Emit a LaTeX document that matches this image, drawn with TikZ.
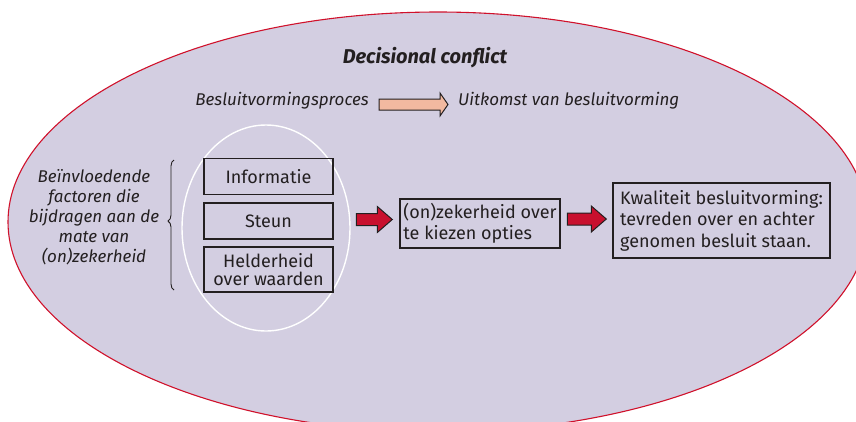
\documentclass[tikz,border=0pt]{standalone}
\usepackage{fontspec}
\setmainfont{Fira Sans}
\usetikzlibrary{shapes.geometric,decorations.pathreplacing,calc}
\definecolor{lav}{HTML}{D3CEE1}
\definecolor{redline}{HTML}{D0112B}
\definecolor{redfill}{HTML}{C8102E}
\definecolor{peach}{HTML}{F2B9A0}
\definecolor{ink}{HTML}{231F20}
\tikzset{
  fbox/.style={draw=ink, line width=1.4pt, rectangle, inner sep=1pt, text=ink,
     font=\fontsize{18}{21.5}\selectfont, align=center},
  itxt/.style={text=ink, font=\fontsize{17}{20}\selectfont\itshape, inner sep=0pt},
  redarr/.style={fill=redfill, draw=ink, line width=1pt, line join=miter},
  peacharr/.style={fill=peach, draw=ink, line width=1pt, line join=miter},
}
\begin{document}
\begin{tikzpicture}[x=1pt,y=-1pt]
\useasboundingbox (0,0) rectangle (856,421);
\begin{scope}
\clip (0,0) rectangle (856,421);
\fill[lav] (438,222) ellipse [x radius=430pt, y radius=210pt];
\draw[redline, line width=1.1pt] (438,222) ellipse [x radius=430pt, y radius=210pt];
\end{scope}

\node[text=ink, font=\fontsize{20}{22}\selectfont\bfseries\itshape] (title) at (425,58) {Decisional conflict};

\node[itxt, anchor=east] (proc) at (369,101) {Besluitvormingsproces};
\node[itxt, anchor=west] (uitk) at (458,101) {Uitkomst van besluitvorming};
\coordinate (pa) at ($(proc.east)+(10,3.5)$);
\coordinate (pb) at ($(uitk.west)+(-10,3.5)$);
\draw[peacharr] let \p1=(pa), \p2=(pb) in
  (\x1,\y1+5.5pt) -- (\x2-8pt,\y1+5.5pt) -- (\x2-8pt,\y1+11.5pt) -- (\x2,\y1)
  -- (\x2-8pt,\y1-11.5pt) -- (\x2-8pt,\y1-5.5pt) -- (\x1,\y1-5.5pt) -- cycle;

\node[ellipse, draw=white, line width=1.4pt, minimum width=168pt, minimum height=206pt] (grp) at (266,228) {};

\node[fbox, minimum width=129pt, minimum height=36pt] (info) at (268.5,176.5) {Informatie};
\node[fbox, minimum width=129pt, minimum height=36pt] (steun) at (268.5,221) {Steun};
\node[fbox, font=\fontsize{18}{18}\selectfont, minimum width=129pt, minimum height=45pt] (held) at (268.5,269.5) {Helderheid\\over waarden};

\node[itxt, align=center] (factors) at (94,217)
  {Beïnvloedende\\factoren die\\bijdragen aan de\\mate van\\(on)zekerheid};
\draw[ink, line width=0.9pt, decoration={brace, amplitude=6pt, aspect=0.53}, decorate]
  (174,290) -- (174,160);

\node[fbox, align=left, font=\fontsize{18}{21}\selectfont, minimum width=160pt, minimum height=49pt] (zek) at (480,223.5)
  {(on)zekerheid over\\te kiezen opties};
\node[fbox, align=left, minimum width=217pt, minimum height=75pt] (kwal) at (721.5,220.5)
  {Kwaliteit besluitvorming:\\tevreden over en achter\\genomen besluit staan.};

\coordinate (r1e) at ($(zek.west)+(-7,-4)$);
\coordinate (r1s) at ($(r1e)+(-36,0)$);
\coordinate (r2e) at ($(kwal.west)+(-6,-1.5)$);
\coordinate (r2s) at ($(r2e)+(-39,0)$);
\foreach \s/\e in {r1s/r1e, r2s/r2e}{
\draw[redarr] let \p1=(\s), \p2=(\e) in
  (\x1,\y1+6pt) -- (\x2-15pt,\y1+6pt) -- (\x2-15pt,\y1+13pt) -- (\x2,\y1)
  -- (\x2-15pt,\y1-13pt) -- (\x2-15pt,\y1-6pt) -- (\x1,\y1-6pt) -- cycle;
}
\end{tikzpicture}
\end{document}
